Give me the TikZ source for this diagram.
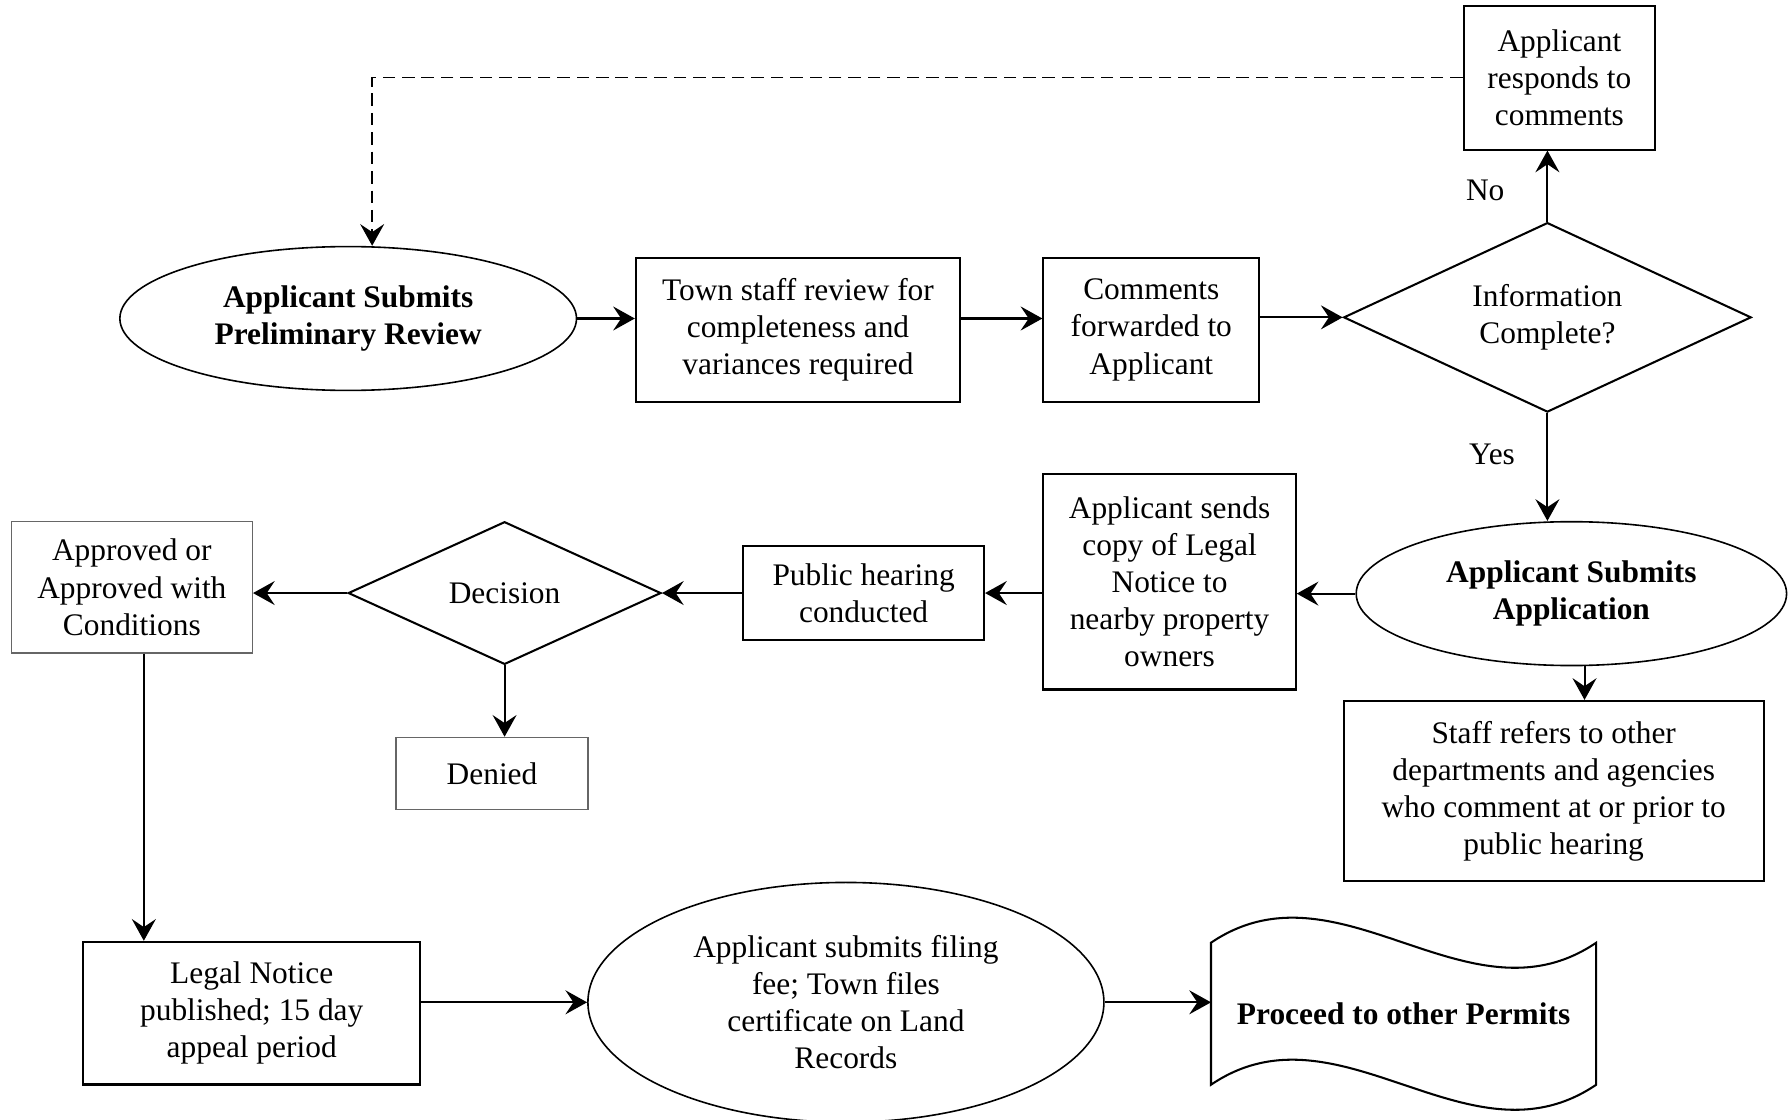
\documentclass[tikz,border=0pt]{standalone}
\usepackage{fontspec}
\setmainfont{Liberation Serif}
\usetikzlibrary{shapes.geometric,arrows.meta,calc}

\begin{document}
\begin{tikzpicture}[x=1pt,y=-1pt,
  every node/.style={font=\fontsize{27.5}{32.5}\selectfont, align=center, inner sep=0pt},
  box/.style={draw, line width=1.8pt, rectangle},
  graybox/.style={draw=black!60, line width=1.3pt, rectangle},
  oval/.style={draw, line width=1.4pt, ellipse},
  decide/.style={draw, line width=1.8pt, diamond},
  arr/.style={line width=1.8pt, -{Stealth[length=19pt,width=21pt,inset=7pt]}},
  dashedarr/.style={line width=1.5pt, dash pattern=on 11pt off 6pt, -{Stealth[length=19pt,width=21pt,inset=7pt]}}
]
\path[use as bounding box] (0,0) rectangle (1568,981);

% top row: preliminary review loop
\node[oval, minimum width=400pt, minimum height=126pt, font=\fontsize{27.5}{32.5}\selectfont\bfseries]
  (e1) at (305,279) {Applicant Submits\\Preliminary Review};
\node[box, minimum width=284pt, minimum height=126pt] (b1) at (699,289)
  {Town staff review for\\completeness and\\variances required};
\node[box, minimum width=189pt, minimum height=126pt] (b2) at (1008.5,289)
  {Comments\\forwarded to\\Applicant};
\node[decide, aspect=2.15, minimum width=357pt, minimum height=166pt] (d1) at (1355.5,278)
  {Information\\Complete?};
\node[box, minimum width=168pt, minimum height=126pt] (r1) at (1366,68)
  {Applicant\\responds to\\comments};
\node (no) at (1301,167) {No};
\node (yes) at (1307,398) {Yes};

% middle row: application and hearing
\node[oval, minimum width=377pt, minimum height=126pt, font=\fontsize{27.5}{32.5}\selectfont\bfseries]
  (e2) at (1376.5,520) {Applicant Submits\\Application};
\node[box, minimum width=368pt, minimum height=158pt] (s1) at (1361,693)
  {Staff refers to other\\departments and agencies\\who comment at or prior to\\public hearing};
\node[box, minimum width=221pt, minimum height=189pt] (b3) at (1024.5,509.5)
  {Applicant sends\\copy of Legal\\Notice to\\nearby property\\owners};
\node[box, minimum width=211pt, minimum height=83pt] (b4) at (756.5,519.5)
  {Public hearing\\conducted};
\node[decide, aspect=2.19, minimum width=274pt, minimum height=125pt] (d2) at (442,519.5)
  {Decision};
\node[graybox, minimum width=211pt, minimum height=115pt] (a1) at (115.5,514.5)
  {Approved or\\Approved with\\Conditions};
\node[graybox, minimum width=168pt, minimum height=63pt] (dn) at (431,677.5) {Denied};

% bottom row: filing
\node[box, minimum width=295pt, minimum height=125pt] (L1) at (220.5,887.5)
  {Legal Notice\\published; 15 day\\appeal period};
\node[oval, minimum width=452pt, minimum height=210pt] (e3) at (741,878)
  {Applicant submits filing\\fee; Town files\\certificate on Land\\Records};
\node[minimum width=337pt, minimum height=124pt, font=\fontsize{27.5}{32.5}\selectfont\bfseries]
  (doc) at (1229.5,888) {Proceed to other Permits};
\draw[line width=1.8pt] (doc.north west) .. controls +(112,-76) and +(-112,76) .. (doc.north east)
  -- (doc.south east) .. controls +(-112,76) and +(112,-76) .. (doc.south west) -- cycle;

% connectors
\coordinate (fb) at (326,68);
\coordinate (a1o) at ($(a1.south)+(10.5,0)$);
\coordinate (e2o) at ($(e2.south)+(11.5,0)$);

\draw[arr] (e1.east) -- (e1.east -| b1.west);
\draw[arr] (b1.east |- e1) -- (b2.west |- e1);
\draw[arr] (b2.east |- d1) -- (d1.west);
\draw[arr] (d1.north) -- (d1.north |- r1.south);
\draw[dashedarr] (r1.west) -- (fb) -- (fb |- e1.north);
\draw[arr] (d1.south) -- (d1.south |- e2.north);
\draw[arr] (e2.west) -- (e2.west -| b3.east);
\draw[arr] (b3.west |- b4) -- (b4.east);
\draw[arr] (b4.west) -- (d2.east);
\draw[arr] (d2.west) -- (d2.west -| a1.east);
\draw[arr] (d2.south) -- (d2.south |- dn.north);
\draw[arr] (e2o) -- (e2o |- s1.north);
\draw[arr] (a1o) -- (a1o |- L1.north);
\draw[arr] (e3.west -| L1.east) -- (e3.west);
\draw[arr] (e3.east) -- (e3.east -| doc.west);
\end{tikzpicture}
\end{document}
